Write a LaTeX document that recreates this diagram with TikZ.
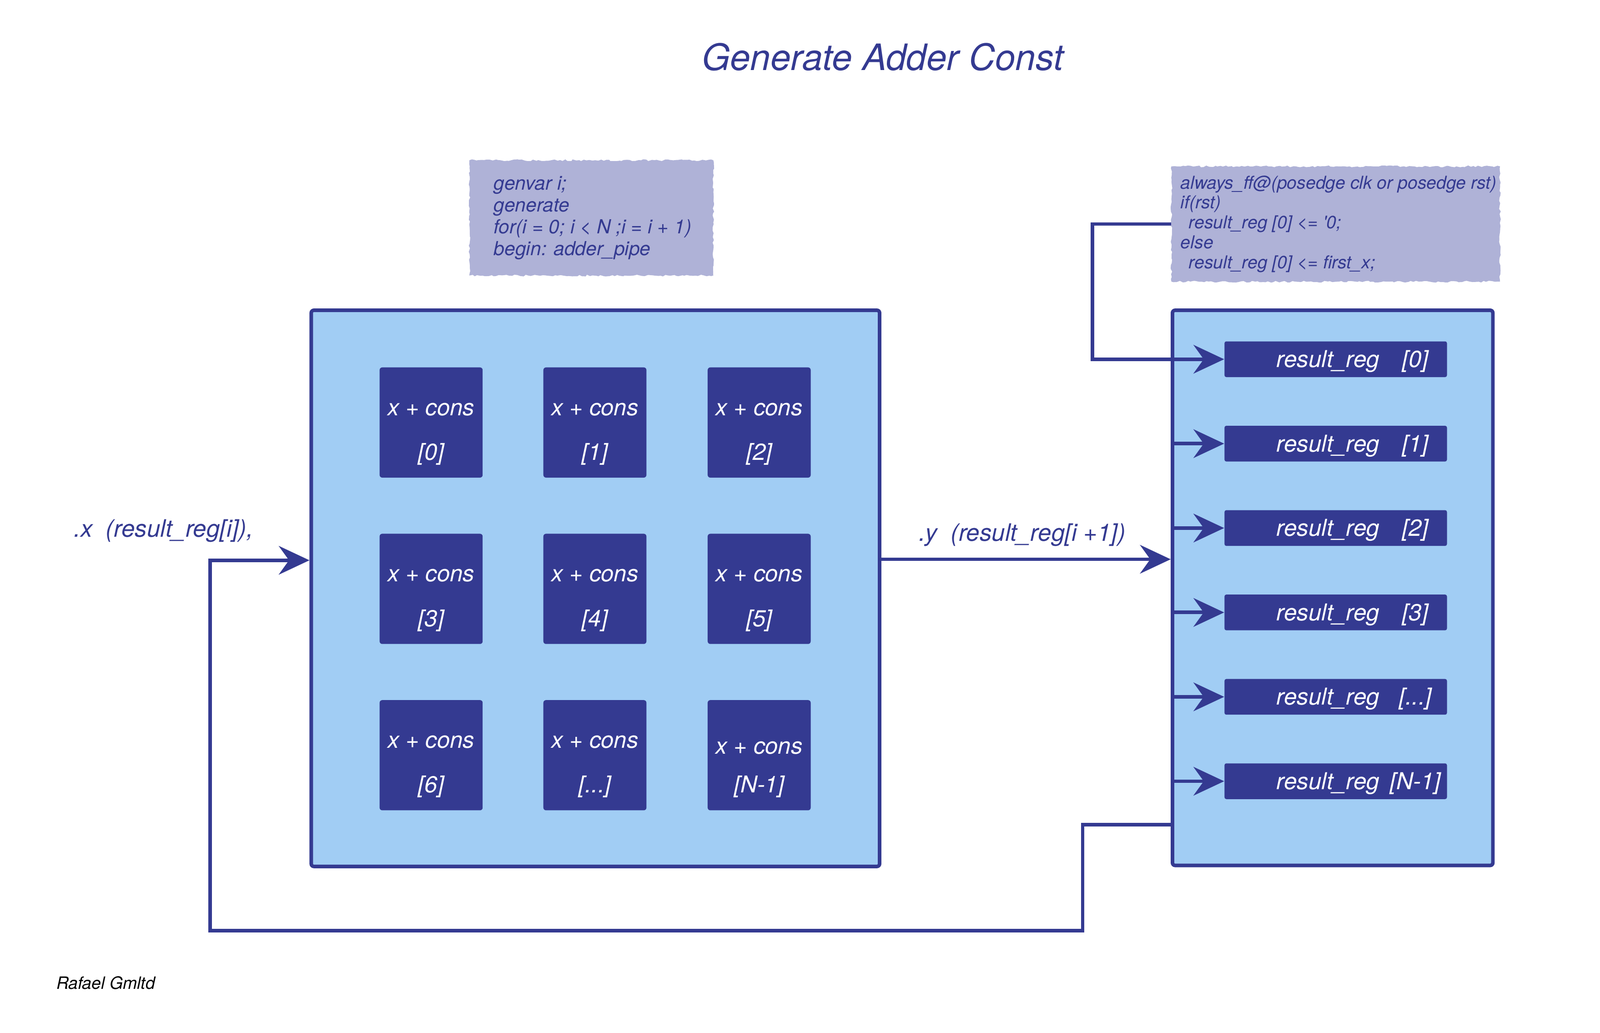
\documentclass[tikz,border=0pt]{standalone}
\usepackage{fontspec}
\setmainfont{TeX Gyre Heros}
\usetikzlibrary{arrows.meta,decorations.pathmorphing}
\definecolor{navy}{HTML}{343A91}
\definecolor{lightblue}{HTML}{A1CDF4}
\definecolor{lav}{HTML}{AFB2D7}
\newdimen\pxu \pxu=0.02cm
\newcommand\tdots{...}
\tikzset{
  bigbox/.style={draw=navy, line width=2pt, fill=lightblue, rounded corners=1.5pt, inner sep=0pt},
  adder/.style={fill=navy, rounded corners=1.5pt, minimum width=101*\pxu, minimum height=108*\pxu, inner sep=0pt},
  addtxt/.style={text=white, font=\itshape\fontsize{12.9}{16}\selectfont, inner sep=0pt},
  regbar/.style={fill=navy, rounded corners=1pt, minimum width=218*\pxu, minimum height=35*\pxu, inner sep=0pt},
  regtxt/.style={text=white, font=\itshape\fontsize{13}{16}\selectfont, inner sep=0pt, anchor=base},
  codebox/.style={fill=lav, decorate, decoration={random steps, segment length=1.5pt, amplitude=0.5pt}, inner sep=0pt},
  codetxt/.style={align=left, text=navy, inner sep=0pt, anchor=west},
  lbl/.style={text=navy, font=\itshape\fontsize{13.4}{16}\selectfont, inner sep=0pt, anchor=base west},
  conn/.style={draw=navy, line width=2pt},
  arr/.style={conn, -{Stealth[length=0.6cm, width=0.56cm, inset=0.2cm]}}
}
\begin{document}
\begin{tikzpicture}[x=0.02cm, y=-0.02cm]
\useasboundingbox (0,0) rectangle (1568,1012.2);

% title
\node[text=navy, font=\itshape\fontsize{20.3}{24}\selectfont, inner sep=0pt, anchor=base] (title) at (865,69) {Generate Adder Const};

% code boxes
\node[codebox, minimum width=239*\pxu, minimum height=113*\pxu] (code1) at (579.5,213.5) {};
\node[codetxt, font=\itshape\fontsize{10.8}{12.2}\selectfont] (code1t) at ([xshift=24*\pxu]code1.west)
  {genvar i;\\generate\\for(i = 0; i < N ;i = i + 1)\\begin: adder\_pipe};
\node[codebox, minimum width=322*\pxu, minimum height=113*\pxu] (code2) at (1309,219.5) {};
\node[codetxt, font=\itshape\fontsize{9.95}{11.1}\selectfont] (code2t) at ([xshift=9*\pxu]code2.west)
  {always\_ff@(posedge clk or posedge rst)\\if(rst)\\\hspace*{0.16cm}result\_reg [0] <= \textquotesingle 0;\\else\\\hspace*{0.16cm}result\_reg [0] <= first\_x;};

% big boxes
\node[bigbox, minimum width=557*\pxu, minimum height=545*\pxu] (lbox) at (583.5,576.5) {};
\node[bigbox, minimum width=314*\pxu, minimum height=544*\pxu] (rbox) at (1306,576) {};

% adders
\foreach \r/\y in {0/414,1/577,2/740}{
  \foreach \c/\x in {0/422.5,1/583,2/744}{
    \node[adder] (a\r\c) at (\x,\y) {};
  }
}
\foreach \n/\idx in {a00/[0],a01/[1],a02/[2],a10/[3],a11/[4],a12/[5],a20/[6],a21/[\tdots]}{
  \node[addtxt] (\n t) at ([yshift=13*\pxu]\n.center) {x + cons};
  \node[addtxt] (\n i) at ([yshift=-31*\pxu]\n.center) {\idx};
}
\node[addtxt] (a22t) at ([yshift=7*\pxu]a22.center) {x + cons};
\node[addtxt] (a22i) at ([yshift=-31*\pxu]a22.center) {[N-1]};

% result registers
\foreach \k/\idx in {0/[0],1/[1],2/[2],3/[3],4/[\tdots],5/[N-1]}{
  \node[regbar] (r\k) at (1309,352+82.7*\k) {};
  \node[regtxt] (r\k t) at ([xshift=-7.5*\pxu, yshift=-8*\pxu]r\k.center) {result\_reg};
  \node[regtxt] (r\k i) at ([xshift=78*\pxu, yshift=-8*\pxu]r\k.center) {\idx};
}
\foreach \k in {1,2,3,4,5}{
  \draw[arr] (r\k.west -| rbox.west) -- (r\k.west);
}
\draw[arr] (code2.west) -- ++(-77,0) |- (r0.west);

% main connections
\coordinate (ym) at (0,548);
\draw[arr] (lbox.east |- ym) -- (rbox.west |- ym);
\coordinate (fb) at (0,808);
\coordinate (c1) at (1061,912);
\coordinate (c2) at (206,549);
\draw[arr] (rbox.west |- fb) -| (c1) -| (c2) -- (lbox.west |- c2);

% labels
\node[lbl] (xlab) at (72,526) {.x\ \ (result\_reg[i]),};
\node[lbl] (ylab) at (900,530) {.y\ \ (result\_reg[i +1])};
\node[inner sep=0pt, anchor=base west, font=\itshape\fontsize{9.5}{11}\selectfont] (author) at (55,969) {Rafael Gmltd};
\end{tikzpicture}
\end{document}
